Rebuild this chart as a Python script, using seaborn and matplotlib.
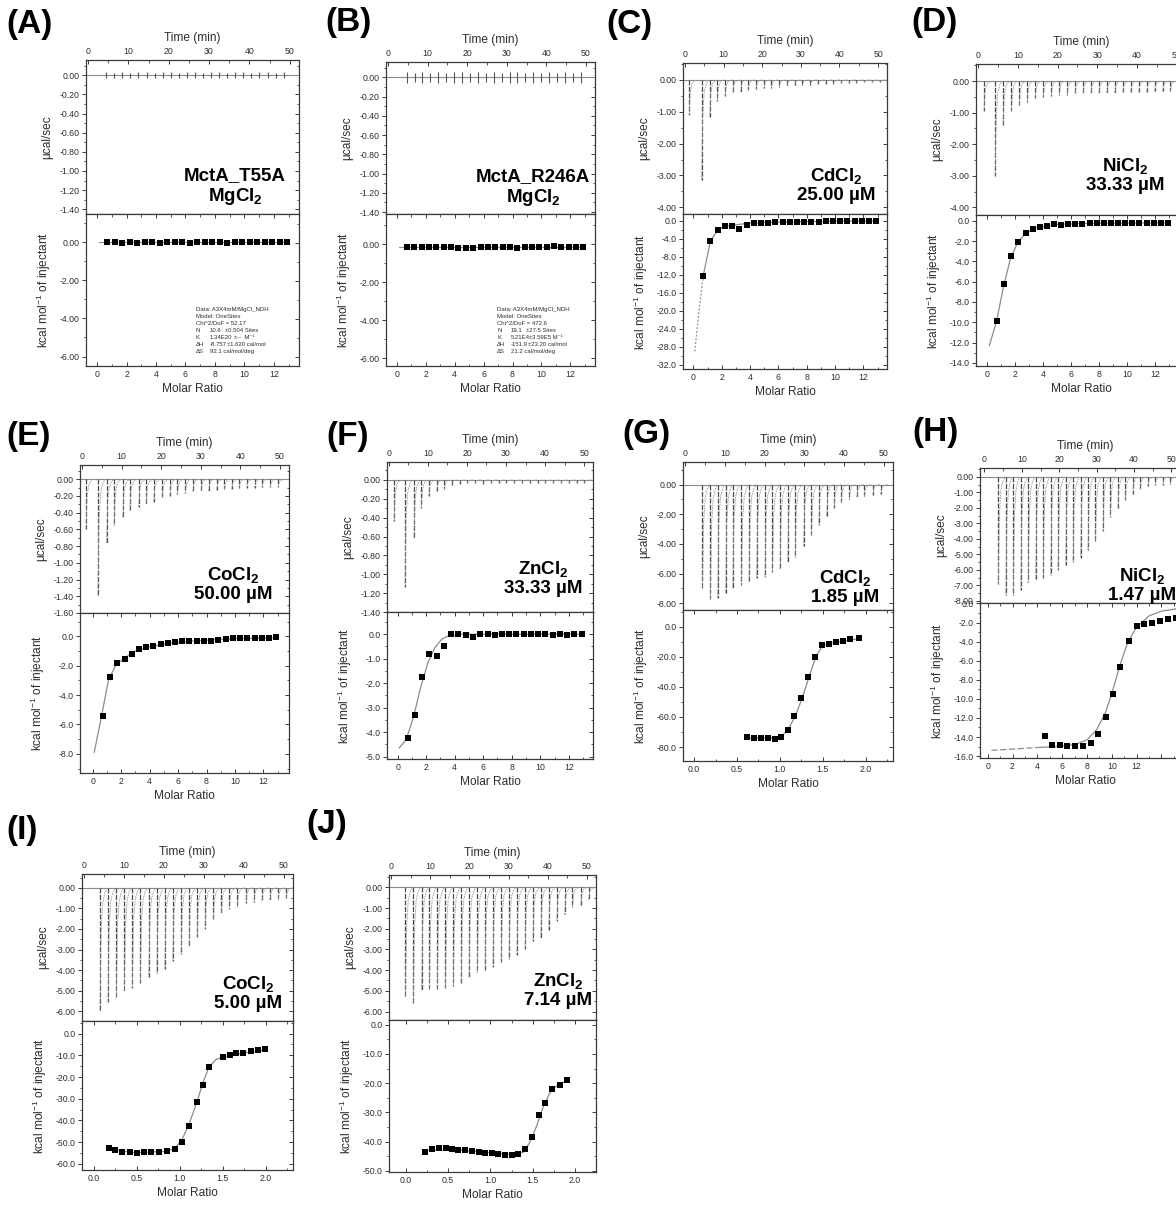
import numpy as np
import matplotlib
matplotlib.use("Agg")
import matplotlib.pyplot as plt
from matplotlib.ticker import MultipleLocator, AutoMinorLocator, FormatStrFormatter, FuncFormatter
import seaborn as sns

# ---------------------------------------------------------------- data
# molar ratio of the injections for the 0-13 titrations (A-F)
mr_wide = [0.70, 1.21, 1.72, 2.23, 2.74, 3.25, 3.76, 4.26, 4.77, 5.28, 5.79, 6.30, 6.80,
           7.31, 7.82, 8.33, 8.84, 9.34, 9.85, 10.36, 10.87, 11.38, 11.89, 12.39, 12.90]

# (A) MctA_T55A / MgCl2
t_A = [4.5, 6.5, 8.5, 10.5, 12.5, 14.5, 16.5, 18.5, 20.5, 22.5, 24.5, 26.5, 28.5, 30.5,
       32.5, 34.5, 36.5, 38.5, 40.5, 42.5, 44.5, 46.5, 48.5]
raw_A = [0.03, 0.025, 0.03, 0.025, 0.03, 0.03, 0.025, 0.03, 0.03, 0.025, 0.03, 0.03, 0.025,
         0.03, 0.03, 0.025, 0.03, 0.03, 0.025, 0.03, 0.03, 0.025, 0.03]
dh_A = [0.0, 0.0, -0.02, 0.0, -0.01, 0.0, 0.0, -0.01, 0.0, 0.0, 0.0, -0.01, 0.0, 0.0, 0.0,
        0.0, -0.01, 0.0, 0.0, 0.0, 0.0, 0.0, 0.0, 0.0, 0.0]
fit_A_x = [0.15, 12.9]
fit_A_y = [0.0, 0.0]

# (B) MctA_R246A / MgCl2
t_B = [4.7, 6.7, 8.7, 10.7, 12.7, 14.7, 16.7, 18.7, 20.7, 22.7, 24.7, 26.7, 28.7, 30.7,
       32.7, 34.7, 36.7, 38.7, 40.7, 42.7, 44.7, 46.7, 48.7]
raw_B = [0.06, 0.05, 0.06, 0.05, 0.06, 0.05, 0.06, 0.06, 0.05, 0.06, 0.05, 0.06, 0.05,
         0.06, 0.06, 0.05, 0.06, 0.05, 0.06, 0.05, 0.06, 0.05, 0.06]
dh_B = [-0.14, -0.12, -0.12, -0.14, -0.14, -0.14, -0.12, -0.17, -0.18, -0.17, -0.14, -0.12,
        -0.12, -0.14, -0.15, -0.17, -0.14, -0.12, -0.14, -0.12, -0.10, -0.12, -0.14, -0.14, -0.14]
fit_B_x = [0.15, 12.9]
fit_B_y = [-0.13, -0.13]

# (C) CdCl2 25.00 uM
t_C = [1.1, 4.3, 6.4, 8.4, 10.4, 12.4, 14.4, 16.4, 18.4, 20.4, 22.4, 24.4, 26.4, 28.4,
       30.4, 32.4, 34.4, 36.4, 38.4, 40.4, 42.4, 44.4, 46.4, 48.4, 50.4]
raw_C = [-1.1, -3.15, -1.15, -0.65, -0.5, -0.42, -0.38, -0.33, -0.3, -0.27, -0.25, -0.22,
         -0.2, -0.18, -0.16, -0.15, -0.14, -0.13, -0.12, -0.11, -0.1, -0.09, -0.08, -0.08, -0.07]
dh_C = [-12.2, -4.5, -2.0, -1.2, -1.1, -1.8, -1.0, -0.6, -0.5, -0.4, -0.35, -0.3, -0.3,
        -0.25, -0.25, -0.2, -0.2, -0.15, -0.15, -0.1, -0.1, -0.1, -0.1, -0.05, -0.05]
fit_C_x = [0.1, 0.4, 0.7, 1.2, 1.7, 2.2, 3.0, 4.0, 6.0, 9.0, 12.9]
fit_C_y = [-29.0, -20.0, -12.2, -4.6, -2.1, -1.3, -0.9, -0.5, -0.3, -0.15, -0.05]

# (D) NiCl2 33.33 uM
t_D = [1.5, 4.3, 6.3, 8.4, 10.4, 12.4, 14.4, 16.4, 18.4, 20.4, 22.4, 24.4, 26.4, 28.4,
       30.4, 32.4, 34.4, 36.4, 38.4, 40.4, 42.4, 44.4, 46.4, 48.4, 50.4]
raw_D = [-0.95, -3.0, -1.4, -0.95, -0.75, -0.65, -0.55, -0.5, -0.48, -0.45, -0.43, -0.42,
         -0.4, -0.4, -0.4, -0.38, -0.38, -0.36, -0.36, -0.35, -0.35, -0.33, -0.33, -0.3, -0.3]
dh_D = [-9.9, -6.2, -3.5, -2.1, -1.2, -0.8, -0.6, -0.5, -0.3, -0.4, -0.35, -0.35, -0.3,
        -0.2, -0.25, -0.25, -0.25, -0.2, -0.25, -0.2, -0.2, -0.2, -0.2, -0.2, -0.25]
fit_D_x = [0.15, 0.65, 1.15, 1.65, 2.15, 2.7, 3.5, 5.0, 8.0, 13.0]
fit_D_y = [-12.3, -10.0, -6.6, -3.8, -2.2, -1.3, -0.7, -0.35, -0.25, -0.2]

# (E) CoCl2 50.00 uM
t_E = [1.0, 4.0, 6.2, 8.1, 10.3, 12.1, 14.3, 16.2, 18.1, 20.3, 22.2, 24.1, 26.1, 28.0,
       30.1, 32.0, 34.0, 36.0, 37.8, 39.7, 41.6, 43.6, 45.5, 47.6, 49.6]
raw_E = [-0.6, -1.4, -0.76, -0.55, -0.46, -0.37, -0.33, -0.3, -0.27, -0.22, -0.2, -0.18,
         -0.17, -0.15, -0.14, -0.14, -0.13, -0.12, -0.12, -0.11, -0.1, -0.1, -0.09, -0.09, -0.09]
dh_E = [-5.4, -2.75, -1.8, -1.55, -1.2, -0.9, -0.7, -0.65, -0.55, -0.45, -0.4, -0.35, -0.3,
        -0.3, -0.3, -0.3, -0.25, -0.2, -0.15, -0.15, -0.15, -0.1, -0.15, -0.15, -0.05]
fit_E_x = [0.1, 0.6, 1.1, 1.6, 2.2, 3.0, 4.0, 6.0, 9.0, 12.9]
fit_E_y = [-7.9, -5.5, -3.0, -2.0, -1.5, -1.0, -0.7, -0.4, -0.2, -0.1]

# (F) ZnCl2 33.33 uM
t_F = [1.3, 4.1, 6.4, 8.3, 10.2, 12.2, 14.2, 16.1, 18.1, 20.1, 22.1, 24.1, 26.1, 28.1,
       30.1, 32.1, 34.1, 36.1, 38.1, 40.1, 42.1, 44.1, 46.1, 48.1, 50.1]
raw_F = [-0.44, -1.13, -0.62, -0.3, -0.17, -0.12, -0.1, -0.05, -0.04, -0.03, -0.03, -0.04,
         -0.03, -0.03, -0.03, -0.03, -0.03, -0.03, -0.03, -0.03, -0.03, -0.03, -0.03, -0.03, -0.03]
dh_F = [-4.25, -3.3, -1.75, -0.82, -0.87, -0.47, 0.0, 0.02, -0.03, -0.1, 0.0, 0.02, -0.03,
        0.0, 0.0, 0.03, 0.0, 0.0, 0.0, 0.0, -0.02, 0.02, -0.05, 0.0, 0.0]
fit_F_x = [0.1, 0.6, 1.1, 1.6, 2.1, 2.6, 3.1, 3.6, 4.5, 12.9]
fit_F_y = [-4.65, -4.3, -3.4, -2.2, -1.2, -0.55, -0.2, -0.05, 0.0, 0.0]

# (G) CdCl2 1.85 uM
t_G = [4.4, 6.4, 8.2, 10.2, 12.0, 14.2, 16.1, 18.0, 20.1, 22.0, 23.9, 25.8, 27.7, 29.8,
       31.8, 33.6, 35.6, 37.5, 39.3, 41.3, 43.2, 45.1, 47.2, 49.2]
raw_G = [-7.05, -7.7, -7.65, -7.3, -7.0, -6.75, -6.55, -6.3, -6.2, -5.9, -5.7, -5.2, -4.85,
         -4.15, -3.4, -2.7, -2.1, -1.55, -1.15, -0.95, -0.85, -0.8, -0.7, -0.65]
mr_G = [0.62, 0.70, 0.78, 0.86, 0.94, 1.01, 1.09, 1.17, 1.25, 1.33, 1.41, 1.49, 1.57, 1.65,
        1.74, 1.82, 1.92]
dh_G = [-73.5, -73.8, -74.3, -74.3, -74.6, -73.2, -68.5, -59.5, -47.5, -33.5, -20.0, -12.0,
        -11.5, -10.2, -9.2, -8.5, -7.8]
fit_G_x = [0.62, 0.95, 1.02, 1.10, 1.18, 1.26, 1.34, 1.42, 1.50, 1.60, 1.75, 1.92]
fit_G_y = [-73.8, -74.3, -73.0, -68.0, -59.5, -47.5, -33.5, -20.0, -12.5, -11.0, -9.5, -8.0]

# (H) NiCl2 1.47 uM
t_H = [3.7, 5.7, 7.7, 9.7, 11.7, 13.7, 15.7, 17.7, 19.7, 21.7, 23.7, 25.7, 27.7, 29.7,
       31.7, 33.7, 35.7, 37.7, 39.7, 41.7, 43.7, 45.7, 47.7, 49.7]
raw_H = [-6.9, -7.6, -7.6, -7.3, -6.8, -6.6, -6.5, -6.3, -6.0, -5.7, -5.5, -5.2, -4.7, -4.2,
         -3.5, -2.6, -2.0, -1.5, -1.1, -0.8, -0.6, -0.5, -0.5, -0.45]
mr_H = [4.6, 5.2, 5.8, 6.4, 7.0, 7.7, 8.3, 8.9, 9.5, 10.1, 10.7, 11.4, 12.0, 12.6, 13.2,
        13.9, 14.5, 15.2]
dh_H = [-13.9, -14.8, -14.8, -14.9, -14.9, -14.9, -14.6, -13.7, -11.9, -9.5, -6.7, -3.9,
        -2.4, -2.2, -2.0, -1.8, -1.6, -1.5]
fit_H_x = [4.0, 5.5, 7.0, 8.0, 8.8, 9.5, 10.1, 10.7, 11.3, 12.0, 13.0, 14.0, 15.3]
fit_H_y = [-15.1, -15.0, -14.8, -14.3, -13.2, -11.4, -9.0, -6.3, -4.0, -2.5, -1.3, -0.8, -0.55]
ext_H_x = [0.3, 4.0]
ext_H_y = [-15.4, -15.1]

# (I) CoCl2 5.00 uM
t_I = [4.0, 6.0, 8.1, 10.1, 12.1, 14.1, 16.2, 18.2, 20.2, 22.2, 24.3, 26.3, 28.3, 30.3,
       32.4, 34.4, 36.4, 38.4, 40.5, 42.5, 44.5, 46.5, 48.6, 50.6]
raw_I = [-6.0, -5.55, -5.3, -5.0, -4.85, -4.6, -4.35, -4.15, -3.95, -3.55, -3.2, -2.85,
         -2.4, -2.0, -1.5, -1.2, -1.05, -0.9, -0.75, -0.7, -0.65, -0.6, -0.55, -0.5]
mr_I = [0.17, 0.25, 0.33, 0.42, 0.50, 0.58, 0.67, 0.76, 0.85, 0.95, 1.03, 1.11, 1.20, 1.27,
        1.34, 1.50, 1.58, 1.66, 1.74, 1.83, 1.91, 1.99]
dh_I = [-52.5, -53.8, -54.6, -54.7, -54.8, -54.7, -54.4, -54.3, -54.0, -53.0, -50.0, -42.5,
        -31.5, -23.5, -15.5, -11.0, -10.0, -9.0, -8.8, -8.2, -7.5, -7.2]
fit_I_x = [0.17, 0.50, 0.85, 0.95, 1.03, 1.11, 1.20, 1.27, 1.34, 1.42, 1.50, 1.70, 1.99]
fit_I_y = [-53.5, -54.8, -54.2, -52.5, -48.5, -41.5, -31.5, -22.5, -15.5, -12.0, -10.8, -9.2, -7.5]

# (J) ZnCl2 7.14 uM
t_J = [3.7, 5.7, 7.8, 9.8, 11.8, 13.9, 15.9, 17.9, 19.9, 22.0, 24.0, 26.0, 28.1, 30.1,
       32.1, 34.2, 36.2, 38.2, 40.2, 42.3, 44.3, 46.3, 48.4, 50.4]
raw_J = [-5.3, -5.65, -4.95, -4.9, -4.9, -4.85, -4.75, -4.6, -4.35, -4.1, -4.0, -3.85, -3.6,
         -3.45, -3.25, -3.0, -2.6, -2.45, -2.05, -1.6, -1.3, -0.95, -0.85, -0.6]
mr_J = [0.23, 0.31, 0.39, 0.47, 0.55, 0.62, 0.70, 0.78, 0.86, 0.94, 1.02, 1.09, 1.17, 1.25,
        1.33, 1.41, 1.49, 1.57, 1.65, 1.73, 1.82, 1.91]
dh_J = [-43.5, -42.5, -42.3, -42.3, -42.5, -42.8, -43.0, -43.3, -43.5, -43.8, -44.0, -44.3,
        -44.5, -44.5, -44.3, -42.5, -38.3, -31.0, -26.8, -22.0, -20.7, -19.0]
fit_J_x = [0.23, 0.60, 1.00, 1.30, 1.40, 1.47, 1.55, 1.62, 1.70, 1.78, 1.91]
fit_J_y = [-43.0, -42.8, -43.8, -44.5, -43.5, -40.0, -34.5, -28.5, -23.5, -21.0, -19.0]

# fit reports printed in (A) and (B)
fit_text_A = [("Data: A3X4mM/MgCl_NDH",), ("Model: OneSites",), ("Chi^2/DoF = 52.17",),
              ("N", "10.6", "\u00b10.504 Sites"), ("K", "1.34E20", "\u00b1--  M\u207b\u00b9"),
              ("\u0394H", "-8.757", "\u00b11.620 cal/mol"), ("\u0394S", "92.1 cal/mol/deg")]
fit_text_B = [("Data: A3X4mM/MgCl_NDH",), ("Model: OneSites",), ("Chi^2/DoF = 472.6",),
              ("N", "19.1", "\u00b127.5 Sites"), ("K", "5.21E4", "\u00b13.59E5 M\u207b\u00b9"),
              ("\u0394H", "-151.9", "\u00b123.20 cal/mol"), ("\u0394S", "21.2 cal/mol/deg")]

# ---------------------------------------------------------------- style
sns.set_theme(style="ticks")
plt.rcParams['font.family'] = ['Liberation Sans', 'DejaVu Sans']
plt.rcParams['axes.unicode_minus'] = False
plt.rcParams['mathtext.fontset'] = 'custom'
plt.rcParams['mathtext.rm'] = 'Liberation Sans'
plt.rcParams['mathtext.it'] = 'Liberation Sans:italic'
plt.rcParams['mathtext.bf'] = 'Liberation Sans:bold'
plt.rcParams['mathtext.default'] = 'regular'

W, H = 1176, 1207
fig = plt.figure(figsize=(W / 100, H / 100), dpi=100)
fig.patch.set_facecolor('white')

FRAME = '#3a3a3a'
TXT = '#2e2e2e'
TICK_FS = 6.3
LAB_FS = 8.6
spike_dt = [0.0, 0.3, 0.7, 1.2, 1.8]
spike_frac = [1.0, 0.35, 0.12, 0.04, 0.0]


def px_axes(l, t, r, b):
    return fig.add_axes([l / W, 1 - b / H, (r - l) / W, (b - t) / H])


def ftext(x, y, s, **kw):
    fig.text(x / W, 1 - y / H, s, **kw)


def style_y(ax, major, fmt, width):
    ax.yaxis.set_major_locator(MultipleLocator(major))
    ax.yaxis.set_minor_locator(AutoMinorLocator(2))
    ax.yaxis.set_major_formatter(FormatStrFormatter(fmt))
    ax.tick_params(axis='y', which='both', direction='out', left=True, right=False,
                   labelsize=TICK_FS, colors=FRAME, labelcolor=TXT, pad=1.5)
    ax.tick_params(axis='y', which='major', length=3, width=0.7)
    ax.tick_params(axis='y', which='minor', length=1.8, width=0.6)
    sec = ax.secondary_yaxis('right')
    sec.yaxis.set_major_locator(MultipleLocator(major))
    sec.yaxis.set_minor_locator(AutoMinorLocator(2))
    sec.tick_params(axis='y', which='both', direction='in', labelright=False, colors=FRAME)
    sec.tick_params(axis='y', which='major', length=3, width=0.7)
    sec.tick_params(axis='y', which='minor', length=1.8, width=0.6)
    sec.spines['right'].set_visible(False)
    ax.yaxis.set_label_coords(-33 / width, 0.5)
    for sp in ax.spines.values():
        sp.set_color(FRAME)
        sp.set_linewidth(0.9)


def style_x(ax, major, fmt, on_top, label_max=None):
    ax.xaxis.set_major_locator(MultipleLocator(major))
    ax.xaxis.set_minor_locator(AutoMinorLocator(2))
    if label_max is None:
        ax.xaxis.set_major_formatter(FormatStrFormatter(fmt))
    else:
        ax.xaxis.set_major_formatter(
            FuncFormatter(lambda v, pos: (fmt % v) if v <= label_max else ''))
    ax.tick_params(axis='x', which='both', direction='in', top=True, bottom=not on_top,
                   labeltop=on_top, labelbottom=not on_top, labelsize=TICK_FS,
                   colors=FRAME, labelcolor=TXT, pad=3)
    ax.tick_params(axis='x', which='major', length=3, width=0.7)
    ax.tick_params(axis='x', which='minor', length=1.8, width=0.6)


def draw_panel(p):
    l, r, t, s, b = p['box']
    width = r - l
    top = px_axes(l, t, r, s)
    bot = px_axes(l, s, r, b)

    # raw thermogram
    top.axhline(0, color='#8a8a8a', lw=0.8, zorder=1)
    for tt, pk in zip(p['t'], p['raw']):
        if p.get('sym'):
            top.vlines(tt, -pk, pk, color='#555555', lw=0.8)
        else:
            top.plot([tt, tt], [0, pk], color='#4a4a4a', lw=0.9, ls=(0, (4, 1.2)))
            top.plot([tt + d for d in spike_dt], [pk * f for f in spike_frac],
                     color='#9a9a9a', lw=0.6, ls=(0, (2, 1)))
    top.set_xlim(*p['tlim'])
    top.set_ylim(*p['ylim_top'])
    top.xaxis.tick_top()
    top.xaxis.set_label_position('top')
    style_x(top, 10, '%d', True)
    top.set_xlabel('Time (min)', fontsize=LAB_FS, color=TXT, labelpad=4)
    style_y(top, p['ymaj_top'], '%.2f', width)
    top.set_ylabel('\u00b5cal/sec', fontsize=LAB_FS, color=TXT)

    # integrated heats with the fitted curve
    if 'ext_x' in p:
        bot.plot(p['ext_x'], p['ext_y'], color='#8c8c8c', lw=0.9, ls=(0, (5, 2)))
    nd = p.get('dotted', 0)
    if nd:
        bot.plot(p['fx'][:nd + 1], p['fy'][:nd + 1], color='#8c8c8c', lw=0.9, ls=(0, (1.5, 1.5)))
    sns.lineplot(x=p['fx'][nd:], y=p['fy'][nd:], ax=bot, color='#8c8c8c', lw=0.9,
                 estimator=None, sort=False)
    sns.scatterplot(x=p['mr'], y=p['dh'], ax=bot, marker='s', s=22, color='black',
                    edgecolor='black', linewidth=0, zorder=3, legend=False)
    bot.set_xlim(*p['mlim'])
    bot.set_ylim(*p['ylim_bot'])
    style_x(bot, p['mmaj'], p['mfmt'], False, p.get('mlabel_max'))
    bot.set_xlabel('Molar Ratio', fontsize=LAB_FS, color=TXT, labelpad=3)
    style_y(bot, p['ymaj_bot'], p['yfmt_bot'], width)
    bot.set_ylabel('kcal mol$^{-1}$ of injectant', fontsize=LAB_FS, color=TXT)
    for ax in (top, bot):
        ax.set_facecolor('white')
        ax.grid(False)

    # panel letter and sample annotation
    ftext(p['lab'][0], p['lab'][1], '(' + p['name'] + ')', fontsize=24,
          fontweight='bold', ha='left', va='center', color='black')
    ftext(p['note'][0], p['note'][1], p['note'][2], fontsize=13.5, fontweight='bold',
          ha='center', va='center', linespacing=1.1, color='black')


tl = (-0.5, 52.3)
panels = [
    dict(name='A', box=(86, 299, 60, 214, 366), t=t_A, raw=raw_A, sym=True, tlim=tl,
         ylim_top=(-1.45, 0.16), ymaj_top=0.2, mr=mr_wide, dh=dh_A, fx=fit_A_x, fy=fit_A_y,
         mlim=(-0.75, 13.7), mmaj=2, mfmt='%d', ylim_bot=(-6.5, 1.5), ymaj_bot=2,
         yfmt_bot='%.2f', lab=(6, 25), note=(235, 187, 'MctA_T55A\nMgCl$_\\mathbf{2}$')),
    dict(name='B', box=(386, 595, 62, 214, 366), t=t_B, raw=raw_B, sym=True, tlim=tl,
         ylim_top=(-1.42, 0.16), ymaj_top=0.2, mr=mr_wide, dh=dh_B, fx=fit_B_x, fy=fit_B_y,
         mlim=(-0.75, 13.7), mmaj=2, mfmt='%d', ylim_bot=(-6.4, 1.6), ymaj_bot=2,
         yfmt_bot='%.2f', lab=(325, 23), note=(533, 188, 'MctA_R246A\nMgCl$_\\mathbf{2}$')),
    dict(name='C', box=(683, 887, 63, 214, 369), t=t_C, raw=raw_C, tlim=tl,
         ylim_top=(-4.21, 0.53), ymaj_top=1, mr=mr_wide, dh=dh_C, fx=fit_C_x, fy=fit_C_y,
         dotted=2, mlim=(-0.73, 13.67), mmaj=2, mfmt='%d', ylim_bot=(-32.9, 1.5), ymaj_bot=4,
         yfmt_bot='%.1f', lab=(606, 25), note=(836, 185, 'CdCl$_\\mathbf{2}$\n25.00 \u00b5M')),
    dict(name='D', box=(976, 1186, 64, 215, 366), t=t_D, raw=raw_D, tlim=tl,
         ylim_top=(-4.24, 0.54), ymaj_top=1, mr=mr_wide, dh=dh_D, fx=fit_D_x, fy=fit_D_y,
         mlim=(-0.8, 14.2), mmaj=2, mfmt='%d', ylim_bot=(-14.3, 0.56), ymaj_bot=2,
         yfmt_bot='%.1f', lab=(911, 22), note=(1125, 175, 'NiCl$_\\mathbf{2}$\n33.33 \u00b5M')),
    dict(name='E', box=(80, 289, 465, 613, 773), t=t_E, raw=raw_E, tlim=tl,
         ylim_top=(-1.6, 0.17), ymaj_top=0.2, mr=mr_wide, dh=dh_E, fx=fit_E_x, fy=fit_E_y,
         mlim=(-0.9, 13.8), mmaj=2, mfmt='%d', ylim_bot=(-9.3, 1.58), ymaj_bot=2,
         yfmt_bot='%.1f', lab=(6, 437), note=(233, 584, 'CoCl$_\\mathbf{2}$\n50.00 \u00b5M')),
    dict(name='F', box=(387, 593, 462, 612, 759), t=t_F, raw=raw_F, tlim=tl,
         ylim_top=(-1.4, 0.19), ymaj_top=0.2, mr=mr_wide, dh=dh_F, fx=fit_F_x, fy=fit_F_y,
         mlim=(-0.75, 13.7), mmaj=2, mfmt='%d', ylim_bot=(-5.1, 0.91), ymaj_bot=1,
         yfmt_bot='%.1f', lab=(326, 437), note=(543, 578, 'ZnCl$_\\mathbf{2}$\n33.33 \u00b5M')),
    dict(name='G', box=(683, 893, 462, 610, 761), t=t_G, raw=raw_G, tlim=tl,
         ylim_top=(-8.45, 1.52), ymaj_top=2, mr=mr_G, dh=dh_G, fx=fit_G_x, fy=fit_G_y,
         mlim=(-0.13, 2.32), mmaj=0.5, mfmt='%.1f', ylim_bot=(-89.3, 11.1), ymaj_bot=20,
         yfmt_bot='%.1f', lab=(622, 435), note=(845, 587, 'CdCl$_\\mathbf{2}$\n1.85 \u00b5M')),
    dict(name='H', box=(980, 1190, 468, 603, 758), t=t_H, raw=raw_H, tlim=(-1.2, 55.0),
         ylim_top=(-8.13, 0.58), ymaj_top=1, mr=mr_H, dh=dh_H, fx=fit_H_x, fy=fit_H_y,
         ext_x=ext_H_x, ext_y=ext_H_y, mlim=(-0.62, 16.3), mmaj=2, mfmt='%d', mlabel_max=12,
         ylim_bot=(-16.2, 0.05), ymaj_bot=2, yfmt_bot='%.1f', lab=(912, 433),
         note=(1142, 585, 'NiCl$_\\mathbf{2}$\n1.47 \u00b5M')),
    dict(name='I', box=(82, 293, 874, 1021, 1170), t=t_I, raw=raw_I, tlim=tl,
         ylim_top=(-6.47, 0.67), ymaj_top=1, mr=mr_I, dh=dh_I, fx=fit_I_x, fy=fit_I_y,
         mlim=(-0.14, 2.32), mmaj=0.5, mfmt='%.1f', ylim_bot=(-62.8, 5.8), ymaj_bot=10,
         yfmt_bot='%.1f', lab=(6, 830), note=(248, 993, 'CoCl$_\\mathbf{2}$\n5.00 \u00b5M')),
    dict(name='J', box=(389, 596, 875, 1020, 1172), t=t_J, raw=raw_J, tlim=tl,
         ylim_top=(-6.41, 0.6), ymaj_top=1, mr=mr_J, dh=dh_J, fx=fit_J_x, fy=fit_J_y,
         mlim=(-0.2, 2.25), mmaj=0.5, mfmt='%.1f', ylim_bot=(-50.4, 1.6), ymaj_bot=10,
         yfmt_bot='%.1f', lab=(306, 825), note=(558, 990, 'ZnCl$_\\mathbf{2}$\n7.14 \u00b5M')),
]

for p in panels:
    draw_panel(p)


def fit_box(x0, y0, rows, col3):
    # rows: full line, or (symbol, value, error) split in columns
    for i, row in enumerate(rows):
        y = y0 + i * 7.1
        ftext(x0, y, row[0], fontsize=4.3, color=TXT, va='center', ha='left')
        if len(row) > 1:
            ftext(x0 + 14, y, row[1], fontsize=4.3, color=TXT, va='center', ha='left')
        if len(row) > 2:
            ftext(x0 + col3[i], y, row[2], fontsize=4.3, color=TXT, va='center', ha='left')


fit_box(196, 309, fit_text_A, {3: 29, 4: 38, 5: 31})
fit_box(497, 309, fit_text_B, {3: 29, 4: 32, 5: 31})

fig.savefig('out.png', dpi=100, facecolor='white')
